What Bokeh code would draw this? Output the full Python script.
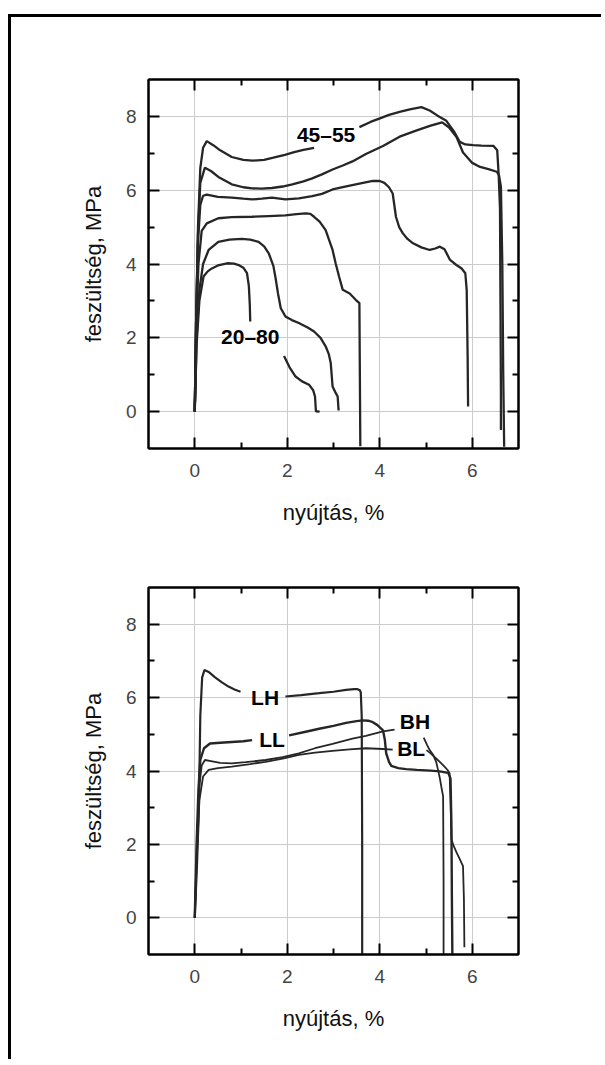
from bokeh.plotting import figure
from bokeh.models import Range1d, FixedTicker, LinearAxis, Label, CustomJSTickFormatter
from bokeh.layouts import column
from bokeh.embed import file_html
from bokeh.resources import INLINE

# ---------------- data: top panel (stress-strain curves) ----------------
x_ticks = [0, 2, 4, 6]
x_minor = [1, 3, 5]
y_ticks = [0, 2, 4, 6, 8]
y_minor = [1, 3, 5, 7]

t1a_x = [0.0, 0.03, 0.07, 0.12, 0.18, 0.26, 0.40, 0.55, 0.80, 1.05, 1.25, 1.50, 1.70, 1.95, 2.15, 2.35, 2.58]
t1a_y = [0.0, 2.5, 5.0, 6.6, 7.15, 7.33, 7.22, 7.08, 6.90, 6.82, 6.80, 6.82, 6.88, 6.96, 7.03, 7.09, 7.15]
t1b_x = [3.56, 3.80, 3.99, 4.20, 4.43, 4.65, 4.90, 5.08, 5.25, 5.44, 5.60, 5.73, 5.85, 6.02, 6.20, 6.46, 6.54, 6.57, 6.60, 6.61, 6.62, 6.62]
t1b_y = [7.71, 7.85, 7.94, 8.04, 8.12, 8.19, 8.25, 8.16, 8.02, 7.88, 7.60, 7.31, 7.24, 7.22, 7.21, 7.20, 7.08, 6.45, 5.5, 3.0, 0.5, -0.5]
t2_x = [0.0, 0.03, 0.07, 0.12, 0.22, 0.35, 0.51, 0.80, 1.05, 1.24, 1.45, 1.67, 1.90, 2.11, 2.35, 2.54, 2.75, 2.98, 3.20, 3.41, 3.70, 4.07, 4.43, 4.80, 5.10, 5.35, 5.50, 5.66, 5.80, 6.00, 6.17, 6.35, 6.53, 6.58, 6.62, 6.65, 6.67, 6.69]
t2_y = [0.0, 2.5, 4.8, 6.2, 6.61, 6.52, 6.36, 6.16, 6.08, 6.05, 6.04, 6.06, 6.10, 6.16, 6.24, 6.32, 6.43, 6.56, 6.67, 6.78, 6.98, 7.20, 7.45, 7.62, 7.75, 7.84, 7.70, 7.44, 7.02, 6.74, 6.63, 6.57, 6.50, 6.40, 6.09, 4.0, 1.0, -0.95]
t3_x = [0.0, 0.03, 0.07, 0.12, 0.18, 0.26, 0.50, 0.80, 1.05, 1.24, 1.45, 1.67, 1.96, 2.25, 2.54, 2.75, 2.98, 3.25, 3.56, 3.85, 4.00, 4.10, 4.20, 4.28, 4.35, 4.42, 4.50, 4.60, 4.72, 4.90, 5.08, 5.20, 5.30, 5.40, 5.52, 5.65, 5.77, 5.85, 5.88, 5.90, 5.91]
t3_y = [0.0, 2.5, 4.6, 5.6, 5.85, 5.88, 5.82, 5.80, 5.77, 5.75, 5.77, 5.80, 5.75, 5.78, 5.84, 5.90, 6.02, 6.10, 6.18, 6.25, 6.25, 6.20, 6.08, 5.91, 5.28, 5.00, 4.83, 4.68, 4.56, 4.45, 4.38, 4.42, 4.47, 4.40, 4.11, 3.98, 3.88, 3.75, 3.3, 1.5, 0.14]
t4_x = [0.0, 0.03, 0.08, 0.15, 0.26, 0.51, 0.80, 1.24, 1.60, 1.96, 2.20, 2.40, 2.50, 2.58, 2.70, 2.83, 2.98, 3.05, 3.12, 3.20, 3.35, 3.48, 3.56, 3.57, 3.58]
t4_y = [0.0, 2.2, 4.0, 4.9, 5.10, 5.24, 5.27, 5.28, 5.30, 5.32, 5.35, 5.37, 5.36, 5.28, 5.15, 4.92, 4.38, 4.00, 3.66, 3.30, 3.20, 3.03, 2.94, 1.0, -0.94]
t5_x = [0.0, 0.04, 0.10, 0.18, 0.30, 0.51, 0.75, 1.02, 1.20, 1.38, 1.50, 1.60, 1.70, 1.75, 1.80, 1.86, 1.96, 2.10, 2.25, 2.45, 2.58, 2.72, 2.83, 2.90, 2.94, 2.98, 3.05, 3.09, 3.11]
t5_y = [0.0, 2.0, 3.3, 4.0, 4.38, 4.60, 4.66, 4.68, 4.66, 4.60, 4.48, 4.29, 3.95, 3.60, 3.20, 2.80, 2.58, 2.48, 2.40, 2.27, 2.17, 2.00, 1.77, 1.55, 1.32, 0.68, 0.50, 0.41, 0.03]
t6a_x = [0.0, 0.04, 0.10, 0.19, 0.28, 0.37, 0.50, 0.70, 0.85, 0.95, 1.05, 1.13, 1.17, 1.19, 1.20]
t6a_y = [0.0, 1.8, 3.0, 3.66, 3.80, 3.88, 3.96, 4.02, 4.01, 3.97, 3.90, 3.75, 3.40, 2.90, 2.44]
t6b_x = [1.93, 2.05, 2.18, 2.32, 2.47, 2.56, 2.60, 2.62, 2.70]
t6b_y = [1.51, 1.20, 0.95, 0.82, 0.73, 0.58, 0.41, 0.01, 0.0]

# ---------------- data: bottom panel ----------------
lha_x = [0.0, 0.05, 0.09, 0.12, 0.16, 0.21, 0.30, 0.44, 0.58, 0.73, 0.86, 0.99]
lha_y = [0.0, 1.5, 3.0, 5.5, 6.55, 6.75, 6.70, 6.55, 6.42, 6.30, 6.22, 6.16]
lhb_x = [1.96, 2.30, 2.69, 3.00, 3.27, 3.45, 3.52, 3.57, 3.59, 3.61, 3.62, 3.62]
lhb_y = [6.03, 6.07, 6.12, 6.16, 6.21, 6.23, 6.23, 6.20, 6.14, 5.5, 2.0, -1.0]
lla_x = [0.0, 0.04, 0.08, 0.12, 0.20, 0.33, 0.55, 0.80, 1.05, 1.24]
lla_y = [0.0, 2.0, 3.5, 4.3, 4.62, 4.75, 4.77, 4.79, 4.81, 4.84]
llb_x = [2.04, 2.40, 2.69, 3.00, 3.27, 3.50, 3.63, 3.75, 3.85, 3.95, 4.07, 4.11, 4.14, 4.20, 4.25, 4.40, 4.57, 4.80, 5.10, 5.30, 5.48, 5.53, 5.55, 5.56, 5.57]
llb_y = [4.97, 5.07, 5.15, 5.23, 5.31, 5.36, 5.38, 5.37, 5.33, 5.25, 5.11, 4.85, 4.48, 4.25, 4.14, 4.08, 4.05, 4.03, 4.01, 3.99, 3.95, 3.80, 2.5, 0.5, -1.0]
bha_x = [0.0, 0.05, 0.10, 0.15, 0.22, 0.35, 0.55, 0.80, 1.10, 1.53, 1.90, 2.25, 2.60, 2.98, 3.41, 3.70, 4.07, 4.32]
bha_y = [0.0, 2.2, 3.6, 4.15, 4.30, 4.27, 4.22, 4.21, 4.24, 4.30, 4.38, 4.48, 4.62, 4.74, 4.88, 4.96, 5.08, 5.13]
bhb_x = [4.95, 5.02, 5.08, 5.15, 5.22, 5.26, 5.30, 5.33, 5.37, 5.38, 5.38]
bhb_y = [4.91, 4.72, 4.57, 4.45, 4.25, 4.03, 3.80, 3.58, 3.31, 1.0, -1.0]
bla_x = [0.0, 0.05, 0.10, 0.18, 0.30, 0.50, 0.80, 1.20, 1.53, 1.90, 2.25, 2.60, 2.98, 3.35, 3.70, 4.07, 4.28]
bla_y = [0.0, 1.8, 3.2, 3.85, 4.03, 4.08, 4.12, 4.19, 4.25, 4.34, 4.44, 4.50, 4.55, 4.59, 4.62, 4.60, 4.58]
blb_x = [5.01, 5.10, 5.22, 5.32, 5.40, 5.47, 5.51, 5.53, 5.55, 5.60, 5.66, 5.73, 5.80, 5.82, 5.83]
blb_y = [4.57, 4.48, 4.34, 4.22, 4.12, 4.02, 3.94, 3.2, 2.14, 1.95, 1.78, 1.60, 1.41, 0.5, -0.8]

X_LABEL = "nyújtás, %"
Y_LABEL = "feszültség, MPa"
FONT = "Liberation Sans"
LINE = "#262626"


def make_fig(height, border_top, border_bottom):
    p = figure(width=590, height=height,
               x_range=Range1d(-1, 7), y_range=Range1d(-1, 9),
               output_backend="svg", toolbar_location=None,
               min_border_left=137, min_border_right=83,
               min_border_top=border_top, min_border_bottom=border_bottom,
               x_axis_label=X_LABEL, y_axis_label=Y_LABEL)
    p.background_fill_color = "white"
    p.border_fill_color = "white"
    p.outline_line_color = "black"
    p.outline_line_width = 2
    p.grid.grid_line_color = "#cccccc"
    p.grid.grid_line_width = 1
    xb = p.below[0]
    yl = p.left[0]
    xb.ticker = FixedTicker(ticks=x_ticks, minor_ticks=x_minor)
    yl.ticker = FixedTicker(ticks=y_ticks, minor_ticks=y_minor)
    p.xgrid.ticker = FixedTicker(ticks=x_ticks)
    p.ygrid.ticker = FixedTicker(ticks=y_ticks)
    blank = CustomJSTickFormatter(code="return ''")
    extra_x = LinearAxis(ticker=FixedTicker(ticks=x_ticks, minor_ticks=x_minor), formatter=blank)
    extra_y = LinearAxis(ticker=FixedTicker(ticks=y_ticks, minor_ticks=y_minor), formatter=blank)
    p.add_layout(extra_x, "above")
    p.add_layout(extra_y, "right")
    for ax in (xb, yl, extra_x, extra_y):
        ax.axis_line_color = "black"
        ax.axis_line_width = 2
        ax.major_tick_in = 11
        ax.major_tick_out = 0
        ax.minor_tick_in = 6
        ax.minor_tick_out = 0
        ax.major_tick_line_width = 2
        ax.minor_tick_line_width = 2
        ax.major_tick_line_color = "black"
        ax.minor_tick_line_color = "black"
        ax.major_label_text_font = FONT
        ax.major_label_text_font_size = "19px"
        ax.major_label_text_color = "#444444"
        ax.axis_label_text_font = FONT
        ax.axis_label_text_font_size = "22px"
        ax.axis_label_text_font_style = "normal"
        ax.axis_label_text_color = "#111111"
    extra_x.major_label_standoff = 0
    extra_y.major_label_standoff = 0
    xb.major_label_standoff = 15
    xb.axis_label_standoff = 20
    yl.major_label_standoff = 12
    yl.axis_label_standoff = 17
    return p


def add_label(p, x, y, text):
    p.add_layout(Label(x=x, y=y, text=text, text_font=FONT, text_font_size="21px",
                       text_font_style="bold", text_color="black",
                       text_align="center", text_baseline="middle"))


p1 = make_fig(541, 62, 110)
for xs, ys in [(t1a_x, t1a_y), (t1b_x, t1b_y), (t2_x, t2_y), (t3_x, t3_y),
               (t4_x, t4_y), (t5_x, t5_y), (t6a_x, t6a_y), (t6b_x, t6b_y)]:
    p1.line(xs, ys, line_color=LINE, line_width=2.3)
add_label(p1, 2.84, 7.51, "45–55")
add_label(p1, 1.2, 2.03, "20–80")

p2 = make_fig(501, 29, 105)
for xs, ys, w in [(lha_x, lha_y, 2.2), (lhb_x, lhb_y, 2.2), (lla_x, lla_y, 2.4), (llb_x, llb_y, 2.4),
                  (bha_x, bha_y, 1.8), (bhb_x, bhb_y, 1.8), (bla_x, bla_y, 1.8), (blb_x, blb_y, 1.8)]:
    p2.line(xs, ys, line_color=LINE, line_width=w)
add_label(p2, 1.52, 6.0, "LH")
add_label(p2, 1.67, 4.86, "LL")
add_label(p2, 4.76, 5.35, "BH")
add_label(p2, 4.68, 4.62, "BL")

layout = column(p1, p2, styles={"border-left": "3px solid black",
                                "border-top": "3px solid black",
                                "margin-top": "14px",
                                "margin-left": "8px"})

open("out.html", "w").write(file_html(layout, INLINE))
